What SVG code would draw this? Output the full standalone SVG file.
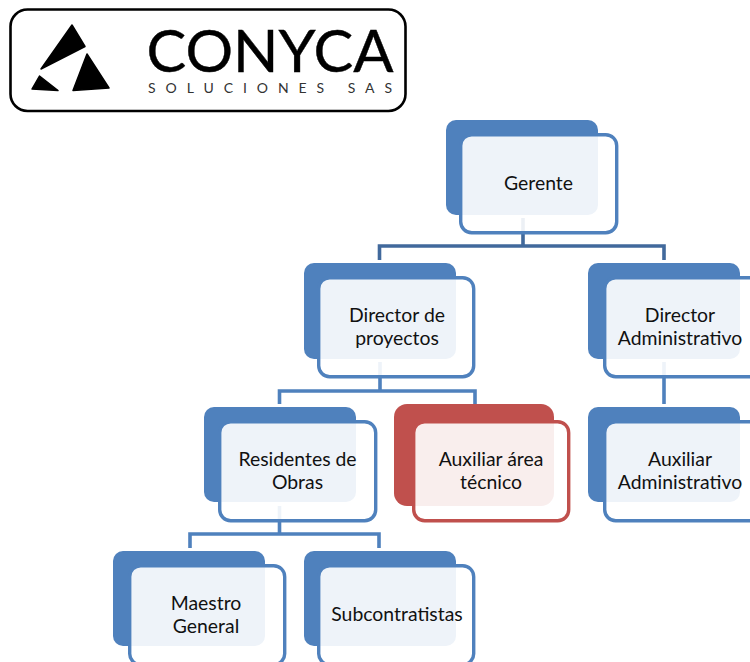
<svg xmlns="http://www.w3.org/2000/svg" width="750" height="662" viewBox="0 0 750 662">
<style>
text{font-family:"Lato","Carlito","Open Sans",sans-serif;font-size:19.400px;fill:#111;text-anchor:middle}
.b{fill:#4F81BD}.f{fill:#fff;fill-opacity:.9;stroke:#4F81BD;stroke-width:3.4}
.rb{fill:#C0504D}.rf{fill:#fff;fill-opacity:.9;stroke:#C0504D;stroke-width:3.4}
.c{fill:none;stroke:#4F81BD;stroke-width:3.6}
.d{stroke:#41699C}
</style>
<rect width="750" height="662" fill="#fff"/>
<g id="logo">
<rect x="10.500" y="9.500" width="395" height="101.500" rx="17" fill="#fff" stroke="#000" stroke-width="2.600"/>
<polygon points="72,25 85,46.500 41,69" fill="#000" stroke="#000" stroke-linejoin="round" stroke-width="1.500"/>
<polygon points="87,54 109,88 73,90.500" fill="#000" stroke="#000" stroke-linejoin="round" stroke-width="1.500"/>
<polygon points="39.500,76 58,90.500 32,89" fill="#000" stroke="#000" stroke-linejoin="round" stroke-width="1.500"/>
<text x="270" y="72" style="font-size:58px;font-family:'Lato',sans-serif;fill:#000;stroke:#000;stroke-width:.4" textLength="247" lengthAdjust="spacingAndGlyphs">CONYCA</text>
<text x="270" y="93" style="font-size:14px;font-family:'Lato',sans-serif;fill:#333" textLength="244">SOLUCIONES SAS</text>
</g>
<g id="connectors">
<path class="c d" d="M523 218V246M379.500 260V246H664V260"/>
<path class="c" d="M380 362V391M279.500 404V391H475V404"/>
<path class="c" d="M664 362V404"/>
<path class="c" d="M279.500 506V534M190 548V534H379V548"/>
</g>
<g id="node-gerente"><rect class="b" x="446" y="120" width="152" height="95" rx="10"/><rect class="f" x="460.700" y="134.700" width="156" height="98" rx="11"/><text x="538.500" y="190">Gerente</text></g>
<g id="node-director-proyectos"><rect class="b" x="304" y="263" width="152" height="96" rx="10"/><rect class="f" x="318.700" y="277.700" width="155" height="99" rx="11"/><text x="397" y="322">Director de</text><text x="397" y="345">proyectos</text></g>
<g id="node-director-administrativo"><rect class="b" x="588" y="263" width="152" height="96" rx="10"/><rect class="f" x="604.700" y="277.700" width="160" height="99" rx="11"/><text x="680" y="322">Director</text><text x="680" y="345">Administrativo</text></g>
<g id="node-residentes"><rect class="b" x="204" y="407" width="152" height="95" rx="10"/><rect class="f" x="219.700" y="421.700" width="156" height="99" rx="11"/><text x="297.500" y="466">Residentes de</text><text x="297.500" y="489">Obras</text></g>
<g id="node-auxiliar-tecnico"><rect class="rb" x="394" y="404" width="160" height="102" rx="13"/><rect class="rf" x="413.700" y="421.700" width="155" height="99" rx="11"/><text x="491" y="466">Auxiliar área</text><text x="491" y="489">técnico</text></g>
<g id="node-auxiliar-administrativo"><rect class="b" x="588" y="407" width="152" height="95" rx="10"/><rect class="f" x="604.700" y="421.700" width="160" height="99" rx="11"/><text x="680" y="466">Auxiliar</text><text x="680" y="489">Administrativo</text></g>
<g id="node-maestro"><rect class="b" x="113" y="551" width="152" height="95" rx="10"/><rect class="f" x="129.700" y="565.700" width="155" height="99" rx="11"/><text x="206" y="610">Maestro</text><text x="206" y="632.500">General</text></g>
<g id="node-subcontratistas"><rect class="b" x="304" y="551" width="152" height="95" rx="10"/><rect class="f" x="318.700" y="565.700" width="155" height="99" rx="11"/><text x="397" y="621">Subcontratistas</text></g>
</svg>
